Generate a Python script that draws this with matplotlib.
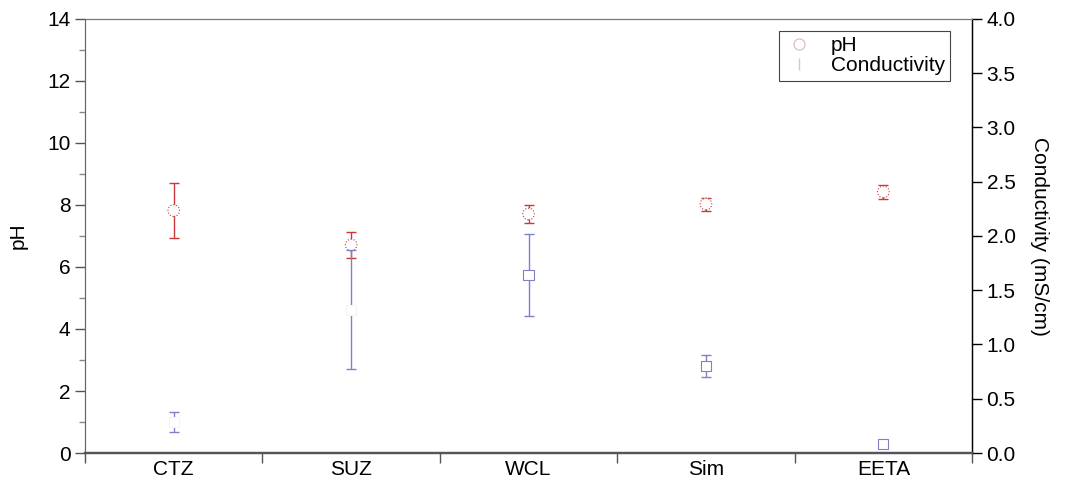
import numpy as np
import matplotlib
matplotlib.use('Agg')
from matplotlib import pyplot as plt
from matplotlib.lines import Line2D

plt.rcParams['font.family'] = ['Liberation Sans', 'DejaVu Sans']

sites = ['CTZ', 'SUZ', 'WCL', 'Sim', 'EETA']
ph_mean = [7.82, 6.71, 7.71, 8.03, 8.42]
ph_err = [0.90, 0.41, 0.30, 0.21, 0.23]
cond_mean = [0.285, 1.32, 1.64, 0.80, 0.083]
cond_err = [0.095, 0.55, 0.38, 0.10, 0.0]

red = '#c8383c'
blue = '#8080c8'
# marker outlines: some markers come out almost invisible
ph_edge = [red, red, red, red, red]
cond_edge = ['#f4f4fa', '#f4f4fa', blue, blue, blue]

x = np.arange(1, len(sites) + 1)

fig, ax = plt.subplots(figsize=(10.67, 4.83), dpi=100)
fig.subplots_adjust(left=0.0797, right=0.911, top=0.9607, bottom=0.0621)
ax2 = ax.twinx()

ax.errorbar(x, ph_mean, yerr=ph_err, fmt='none', ecolor=red,
            elinewidth=1.0, capsize=3.5, capthick=1.0, zorder=2)
ax.scatter(x, ph_mean, s=70, marker='o', facecolors='white',
           edgecolors=ph_edge, linewidths=0.8, linestyle=':', zorder=3)

ax2.errorbar(x, cond_mean, yerr=cond_err, fmt='none', ecolor=blue,
             elinewidth=1.0, capsize=3.5, capthick=1.0, zorder=2)
ax2.scatter(x, cond_mean, s=55, marker='s', facecolors='white',
            edgecolors=cond_edge, linewidths=0.8, zorder=3)

# left axis: pH
ax.set_xlim(0.5, 5.5)
ax.set_ylim(0, 14)
ax.set_yticks(np.arange(0, 15, 2))
ax.set_yticks(np.arange(1, 14, 2), minor=True)
ax.set_ylabel('pH', fontsize=15, labelpad=14)
ax.tick_params(axis='y', which='major', length=7, width=1, colors='#555555',
               labelcolor='black', labelsize=15)
ax.tick_params(axis='y', which='minor', length=4, width=1, colors='#888888')

# x: labels at site centres, ticks at boundaries
ax.set_xticks(x)
ax.set_xticklabels(sites, fontsize=15)
ax.set_xticks(np.arange(0.5, 6.0, 1.0), minor=True)
ax.tick_params(axis='x', which='major', length=0, pad=5)
ax.tick_params(axis='x', which='minor', length=7, width=1, colors='#555555')

# right axis: conductivity
ax2.set_ylim(0, 4.0)
ax2.set_yticks(np.arange(0, 4.01, 0.5))
ax2.set_yticklabels([f'{v:.1f}' for v in np.arange(0, 4.01, 0.5)])
ax2.tick_params(axis='y', length=7, width=1, labelsize=15)
ax2.set_ylabel('Conductivity (mS/cm)', fontsize=15, rotation=270, labelpad=24)

for a in (ax, ax2):
    a.spines['left'].set_color('#666666')
    a.spines['top'].set_color('#777777')
    a.spines['bottom'].set_color('#555555')
    a.spines['bottom'].set_linewidth(1.6)
    a.spines['right'].set_color('black')
    a.spines['right'].set_linewidth(0.9)

handles = [
    Line2D([], [], linestyle='none', marker='o', markersize=8,
           markerfacecolor='white', markeredgecolor='#e0b4b4',
           markeredgewidth=0.8),
    Line2D([], [], linestyle='none', marker='|', markersize=9,
           markeredgecolor='#c8c8e4', markeredgewidth=1.0),
]
leg = ax2.legend(handles, ['pH', 'Conductivity'], loc='upper right',
                 bbox_to_anchor=(0.975, 0.972), fontsize=15, frameon=True,
                 fancybox=False, framealpha=1, edgecolor='#444444',
                 handlelength=1.4, handletextpad=0.8, borderpad=0.25,
                 labelspacing=0.05, borderaxespad=0)
leg.get_frame().set_linewidth(0.8)

plt.savefig('out.png', dpi=100)
